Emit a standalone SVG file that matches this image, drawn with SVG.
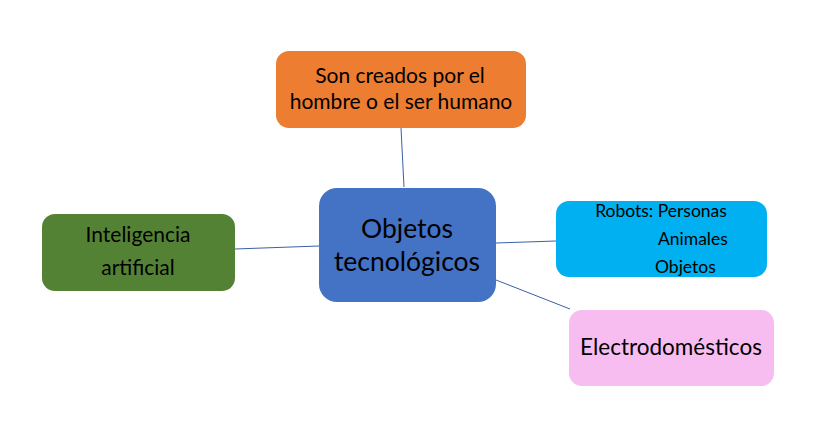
<svg xmlns="http://www.w3.org/2000/svg" width="816" height="425" viewBox="0 0 816 425">
<style>
text{font-family:Lato,"Open Sans","Liberation Sans",sans-serif;fill:#000;text-anchor:middle}
.s{text-anchor:start}
.c{stroke:#3b5fa8;stroke-width:1;fill:none}
</style>
<rect width="816" height="425" fill="#fff"/>
<g id="connectors">
<line class="c" x1="401" y1="128" x2="404" y2="187"/>
<line class="c" x1="235" y1="249" x2="319" y2="246"/>
<line class="c" x1="496" y1="243" x2="556" y2="241"/>
<line class="c" x1="496" y1="280" x2="570" y2="309"/>
</g>
<g id="orange">
<rect x="276" y="51" width="250" height="77" rx="13" fill="#ED7D31"/>
<text x="400" y="83" font-size="21">Son creados por el</text>
<text x="401" y="109" font-size="21">hombre o el ser humano</text>
</g>
<g id="center">
<rect x="319" y="188" width="177" height="114" rx="18" fill="#4472C4"/>
<text x="407" y="238" font-size="26.5">Objetos</text>
<text x="407" y="271" font-size="26.5">tecnológicos</text>
</g>
<g id="robots">
<rect x="556" y="201" width="211" height="76" rx="13" fill="#00B0F0"/>
<text x="661" y="217" font-size="17.5">Robots: Personas</text>
<text x="658" y="245" font-size="17.5" class="s">Animales</text>
<text x="655" y="273" font-size="17.5" class="s">Objetos</text>
</g>
<g id="ia">
<rect x="42" y="214" width="193" height="77" rx="13" fill="#548235"/>
<text x="138" y="242" font-size="21">Inteligencia</text>
<text x="138" y="275" font-size="21">artificial</text>
</g>
<g id="electro">
<rect x="569" y="310" width="205" height="76" rx="13" fill="#F8BDF0"/>
<text x="671" y="355" font-size="22.5">Electrodomésticos</text>
</g>
</svg>
